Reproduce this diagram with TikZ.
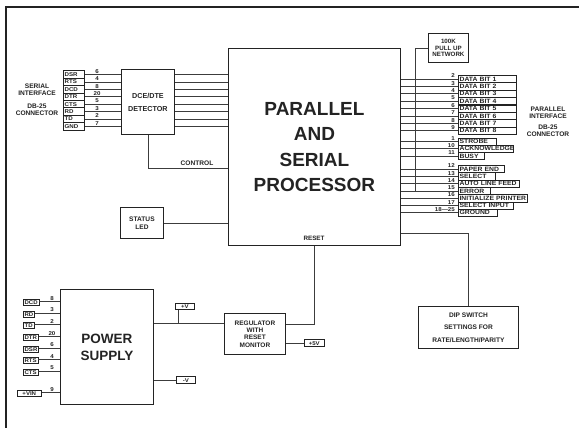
\documentclass[tikz,border=0pt]{standalone}
\usepackage{fontspec}
\setmainfont{Liberation Sans}
\newfontfamily\tagfam[FakeStretch=1.1]{Liberation Sans}
\usetikzlibrary{calc}
\definecolor{ink}{RGB}{35,35,35}
\definecolor{wire}{RGB}{60,60,60}
\newcommand\fs[2]{\fontsize{#1}{#2}\selectfont\bfseries}
\newcommand\ft[2]{\tagfam\fontsize{#1}{#2}\selectfont\bfseries}
\begin{document}
\begin{tikzpicture}[x=1pt,y=-1pt,
  blk/.style={draw=ink, line width=0.9pt, inner sep=0pt, anchor=north west, text=ink, align=center},
  tag/.style={draw=ink, line width=0.6pt, inner xsep=1.3pt, inner ysep=0pt, text=ink, text depth=0pt, text height=4.2pt},
  pin/.style={font=\ft{5.6}{5}, inner sep=0pt, text=ink},
  wl/.style={draw=wire, line width=0.75pt},
  txt/.style={inner sep=0pt, text=ink, align=center}
]
\useasboundingbox (0,0) rectangle (579,428);
% frame
\draw[ink, line width=2pt] (6,428) -- (6,6.6) -- (579,6.6);

% main blocks
\node[blk, minimum width=172pt, minimum height=197pt, font=\fs{19}{25.3}] (proc) at (228,48) {PARALLEL\\AND\\SERIAL\\PROCESSOR};
\node[txt, font=\fs{6.3}{6}] (reset) at (314,238) {RESET};
\node[blk, minimum width=53pt, minimum height=65pt, font=\fs{7.2}{13}] (dce) at (121,69) {DCE/DTE\\DETECTOR};
\node[blk, minimum width=43pt, minimum height=31pt, font=\fs{6.6}{8}] (led) at (120,207) {STATUS\\LED};
\node[blk, minimum width=40pt, minimum height=29pt, font=\fs{6.2}{6.6}] (pull) at (428,33) {100K\\PULL UP\\NETWORK};
\node[blk, minimum width=100pt, minimum height=42pt, font=\fs{6.6}{12.5}] (dip) at (418,306) {DIP SWITCH\\SETTINGS FOR\\RATE/LENGTH/PARITY};
\node[blk, minimum width=93pt, minimum height=115pt, font=\fs{13.5}{17}] (ps) at (60,289) {POWER\\SUPPLY};
\node[blk, minimum width=61pt, minimum height=41pt, font=\fs{6.5}{7.4}] (reg) at (224,313) {REGULATOR\\WITH\\RESET\\MONITOR};

% side captions
\node[txt, font=\fs{6.6}{7}] (sercap) at (37,90) {SERIAL\\INTERFACE};
\node[txt, font=\fs{6.6}{7}] (serdb) at (37,110) {DB-25\\CONNECTOR};
\node[txt, font=\fs{6.6}{7}] (parcap) at (548,112.5) {PARALLEL\\INTERFACE};
\node[txt, font=\fs{6.6}{7}] (pardb) at (548,130.5) {DB-25\\CONNECTOR};

% serial interface lines
\foreach \y/\t/\n [count=\i] in {74.5/DSR/6, 81.9/RTS/4, 89.3/DCD/8, 96.7/DTR/20, 104.1/CTS/5, 111.5/RD/3, 118.9/TD/2, 126.3/GND/7}{
  \node[tag, font=\ft{5.6}{6}, text width=18.4pt, align=left, anchor=west, minimum height=7.4pt] (s\i) at (63,\y) {\t};
  \draw[wl] (s\i.east) -- (dce.west |- s\i.east);
  \draw[wl] (dce.east |- s\i.east) -- (proc.west |- s\i.east);
  \node[pin, anchor=south] at (97,{\y-1}) {\n};
}
% control
\coordinate (ctlY) at (0,168);
\draw[wl] (dce.south) |- (proc.west |- ctlY);
\node[txt, font=\fs{6.6}{7}, anchor=south] (ctl) at (197,166) {CONTROL};
% status LED
\draw[wl] (led.east) -- (proc.west |- led.east);

% parallel interface
\foreach \y/\n/\t/\w [count=\i] in {79/2/DATA BIT 1/55pt, 86.4/3/DATA BIT 2/55pt, 93.8/4/DATA BIT 3/55pt, 101.2/5/DATA BIT 4/55pt, 108.6/6/DATA BIT 5/55pt, 116/7/DATA BIT 6/55pt, 123.4/8/DATA BIT 7/55pt, 130.8/9/DATA BIT 8/55pt, 141.5/1/STROBE/35pt, 148.8/10/ACKNOWLEDGE/52pt, 156/11/BUSY/23pt, 169/12/PAPER END/43pt, 176.3/13/SELECT/34pt, 183.6/14/AUTO LINE FEED/58pt, 190.9/15/ERROR/29pt, 198.2/16/INITIALIZE PRINTER/66.5pt, 205.5/17/SELECT INPUT/52pt, 212.8/18\textemdash25/GROUND/36pt}{
  \node[tag, font=\ft{6.2}{6}, text width=\w, align=left, minimum height=7.2pt, anchor=west] (p\i) at (458,\y) {\t};
  \draw[wl] (proc.east |- p\i.west) -- (p\i.west);
  \node[pin, anchor=south east] at (455,{\y-1}) {\n};
}
\coordinate (puEnd) at (415,190.9);
\draw[wl] (pull.west) -| (puEnd);
% DIP switch
\coordinate (dipY) at (0,233);
\draw[wl] (proc.east |- dipY) -| (dip.north);

% power supply inputs
\foreach \y/\t/\n [count=\i] in {302.5/DCD/8, 314/RD/3, 325.5/TD/2, 337.5/DTR/20, 349/DSR/6, 360.5/RTS/4, 372/CTS/5}{
  \node[tag, font=\ft{5.5}{6}, minimum height=5.8pt, anchor=west] (q\i) at (23,\y) {\t};
  \coordinate (qa\i) at ([yshift=1pt]q\i.east);
  \draw[wl] (qa\i) -- (ps.west |- qa\i);
  \node[pin, anchor=south] at (52,{\y-2}) {\n};
}
\node[tag, font=\ft{5.5}{6}, minimum height=5.8pt, minimum width=24pt, anchor=west] (vin) at (17,393.5) {+VIN};
\coordinate (vina) at ([yshift=1pt]vin.east);
\draw[wl] (vina) -- (ps.west |- vina);
\node[pin, anchor=south] at (52,391.5) {9};

% supply outputs
\coordinate (vY) at (0,323);
\draw[wl] (ps.east |- vY) -- (reg.west |- vY);
\node[tag, font=\ft{5.5}{6}, minimum height=6.5pt, minimum width=19pt, anchor=west] (pv) at (175,306.5) {+V};
\coordinate (vTap) at (178,323);
\draw[wl] (pv.south -| vTap) -- (vTap);
\coordinate (mvY) at (0,380);
\node[tag, font=\ft{5.5}{6}, minimum height=6.5pt, minimum width=19pt, anchor=west] (mv) at (176,380) {-V};
\draw[wl] (ps.east |- mvY) -- (mv.west);
\coordinate (rY) at (0,324);
\draw[wl] (reg.east |- rY) -| (proc.south);
\node[tag, font=\ft{5.5}{6}, minimum height=6.5pt, minimum width=20pt, anchor=west] (p5) at (304,343) {+5V};
\draw[wl] (reg.east |- p5.west) -- (p5.west);
\end{tikzpicture}
\end{document}
